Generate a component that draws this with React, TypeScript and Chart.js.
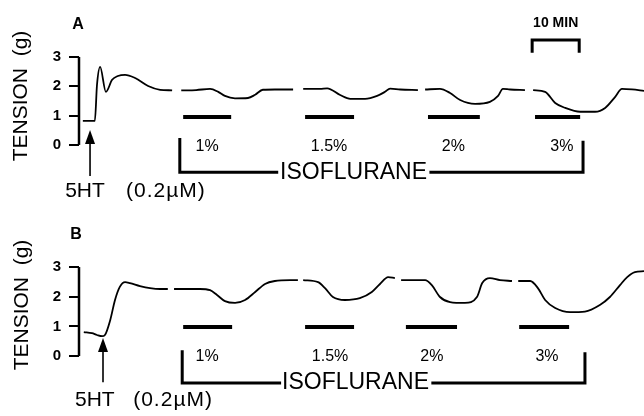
import React, { useEffect, useRef } from 'react';
import { Chart, registerables } from 'chart.js';

Chart.register(...registerables);

const FONT = '"Liberation Sans", Arial, Helvetica, sans-serif';

// time in minutes from the tension axis, tension in grams (null = gap in the trace)
const timeA = [0.8, 3.3, 3.75, 4.4, 5.6, 6.9, 8.1, 9.6, 11.7, 14.4, 16.9, 19.4, 20.3, 21.3, 24.4, 27.3, 29.0, 30.4, 32.5, 35.2, 36.7, 38.3, 40.8, 44.6, 45.6, 46.7, 50.2, 51.7, 54.4, 56.5, 59.6, 62.1, 63.75, 64.8, 66.9, 70.6, 71.3, 72.1, 75.2, 77.3, 79.4, 82.5, 85.6, 87.3, 88.3, 89.8, 92.9, 93.7, 94.6, 97.1, 99.2, 101.3, 104.4, 107.5, 109.6, 111.7, 113.1, 115.2, 117.7];
const tensionA = [0.82, 0.82, 2.05, 2.66, 1.81, 2.22, 2.35, 2.39, 2.28, 2.01, 1.88, 1.86, null, 1.86, 1.87, 1.91, 1.81, 1.67, 1.59, 1.6, 1.71, 1.88, 1.89, 1.89, null, 1.91, 1.91, 1.93, 1.7, 1.57, 1.57, 1.67, 1.81, 1.92, 1.89, 1.87, null, 1.89, 1.91, 1.77, 1.53, 1.4, 1.47, 1.67, 1.91, 1.89, 1.87, null, 1.87, 1.81, 1.43, 1.26, 1.13, 1.13, 1.26, 1.64, 1.91, 1.89, 1.84];

const timeB = [1.0, 2.7, 3.75, 4.8, 5.4, 6.5, 7.5, 8.5, 9.6, 10.6, 12.7, 14.8, 16.9, 18.5, 19.2, 19.8, 25.2, 27.3, 28.75, 30.4, 32.5, 34.6, 36.7, 38.75, 40.8, 44.0, 45.6, 46.1, 46.7, 49.8, 51.25, 52.9, 55.4, 58.5, 61.0, 62.7, 64.4, 65.8, 66.5, 67.1, 72.1, 73.5, 75.2, 77.3, 80.4, 82.9, 84.0, 85.6, 87.7, 90.2, 90.8, 91.5, 94.0, 95.6, 97.1, 99.2, 102.3, 105.4, 108.5, 110.6, 112.7, 114.2, 115.8, 117.7];
const tensionB = [0.81, 0.77, 0.71, 0.67, 0.71, 1.21, 1.89, 2.33, 2.49, 2.46, 2.36, 2.29, 2.26, 2.26, null, 2.26, 2.26, 2.22, 2.06, 1.85, 1.79, 1.89, 2.16, 2.43, 2.53, 2.56, 2.56, null, 2.56, 2.49, 2.29, 1.99, 1.89, 1.95, 2.16, 2.43, 2.66, 2.63, null, 2.56, 2.56, 2.39, 1.99, 1.82, 1.79, 1.99, 2.46, 2.63, 2.56, 2.53, null, 2.53, 2.53, 2.29, 1.89, 1.62, 1.48, 1.5, 1.72, 1.99, 2.39, 2.66, 2.83, 2.86];

// isoflurane exposures (minutes)
const doseLabels = ['1%', '1.5%', '2%', '3%'];
const isoStartA = [21.7, 47.1, 72.7, 95.0];
const isoEndA = [31.7, 57.3, 83.5, 104.4];
const isoStartB = [21.7, 47.1, 68.1, 91.7];
const isoEndB = [31.9, 57.3, 78.75, 102.1];
const doseTimeA = [26.7, 52.1, 78.0, 100.6];
const doseTimeB = [26.7, 52.3, 73.5, 97.5];

// ISOFLURANE bracket: left, text start, text end, right (min) / left top, bottom, right top (g)
const bracketTimeA = [21.0, 41.5, 73.0, 105.0];
const bracketLevelA = [0.24, -0.93, 0.14];
const bracketTimeB = [21.5, 42.1, 73.4, 105.4];
const bracketLevelB = [0.2, -0.91, 0.13];

// 5HT arrow: time, base, tip
const arrowA = [2.3, -1.06, 0.51];
const arrowB = [5.0, -0.88, 0.61];

// 10 min scale bar (panel A)
const scaleBarTime = [94.4, 104.2];
const scaleBarLevel = [3.14, 3.58];

const yTicks = [0, 1, 2, 3];
const T_MAX = 117.7;

interface PanelSpec {
  letter: string;
  letterAt: number[];
  time: number[];
  tension: (number | null)[];
  isoStart: number[];
  isoEnd: number[];
  isoLevel: number;
  doseTime: number[];
  doseLevel: number;
  bracketTime: number[];
  bracketLevel: number[];
  isoTextAt: number[];
  arrow: number[];
  htAt: number[];
  concAt: number[];
  yMin: number;
  yMax: number;
  titleX: number;
  titleY: number;
  scaleBar: boolean;
}

const panels: PanelSpec[] = [
  {
    letter: 'A', letterAt: [-0.2, 4.09],
    time: timeA, tension: tensionA,
    isoStart: isoStartA, isoEnd: isoEndA, isoLevel: 0.95,
    doseTime: doseTimeA, doseLevel: -0.07,
    bracketTime: bracketTimeA, bracketLevel: bracketLevelA, isoTextAt: [57.2, -0.93],
    arrow: arrowA, htAt: [1.25, -1.57], concAt: [18.1, -1.57],
    yMin: -2.15, yMax: 4.94, titleX: 21, titleY: 96, scaleBar: true,
  },
  {
    letter: 'B', letterAt: [-0.6, 4.08],
    time: timeB, tension: tensionB,
    isoStart: isoStartB, isoEnd: isoEndB, isoLevel: 0.98,
    doseTime: doseTimeB, doseLevel: -0.03,
    bracketTime: bracketTimeB, bracketLevel: bracketLevelB, isoTextAt: [57.6, -0.91],
    arrow: arrowB, htAt: [3.3, -1.48], concAt: [19.6, -1.48],
    yMin: -2.02, yMax: 4.99, titleX: 22, titleY: 97, scaleBar: false,
  },
];

const line = (data: any[], width: number, extra: any = {}) => ({
  data,
  showLine: true,
  borderColor: '#000',
  backgroundColor: '#000',
  borderWidth: width,
  pointRadius: 0,
  spanGaps: false,
  tension: 0,
  ...extra,
});

const annotate = (spec: PanelSpec) => ({
  id: 'annotate' + spec.letter,
  afterDatasetsDraw(chart: any) {
    const { ctx, scales: { x, y } } = chart;
    const px = (t: number) => x.getPixelForValue(t);
    const py = (g: number) => y.getPixelForValue(g);
    ctx.save();
    ctx.fillStyle = '#000';
    ctx.strokeStyle = '#000';
    ctx.textAlign = 'center';
    ctx.textBaseline = 'middle';
    const text = (s: string, t: number, g: number, font: string, spacing = '0px') => {
      ctx.font = font;
      ctx.letterSpacing = spacing;
      ctx.fillText(s, px(t), py(g));
    };
    text(spec.letter, spec.letterAt[0], spec.letterAt[1], `bold 16px ${FONT}`);
    spec.doseTime.forEach((t, i) => text(doseLabels[i], t, spec.doseLevel, `16px ${FONT}`));
    text('ISOFLURANE', spec.isoTextAt[0], spec.isoTextAt[1], `23px ${FONT}`);
    text('5HT', spec.htAt[0], spec.htAt[1], `21px ${FONT}`);
    text('(0.2\u00B5M)', spec.concAt[0], spec.concAt[1], `21px ${FONT}`, '1px');
    if (spec.scaleBar) {
      text('10 MIN', (scaleBarTime[0] + scaleBarTime[1]) / 2, 4.16, `bold 14px ${FONT}`);
    }
    ctx.letterSpacing = '0px';

    // 5HT arrow
    const ax = px(spec.arrow[0]);
    const base = py(spec.arrow[1]);
    const tip = py(spec.arrow[2]);
    ctx.lineWidth = 1.6;
    ctx.beginPath();
    ctx.moveTo(ax, base);
    ctx.lineTo(ax, tip + 10);
    ctx.stroke();
    ctx.beginPath();
    ctx.moveTo(ax, tip);
    ctx.lineTo(ax - 5, tip + 14);
    ctx.lineTo(ax + 5, tip + 14);
    ctx.closePath();
    ctx.fill();

    // y title
    ctx.translate(spec.titleX, spec.titleY);
    ctx.rotate(-Math.PI / 2);
    ctx.font = `21px ${FONT}`;
    ctx.fillText('TENSION  (g)', 0, 0);
    ctx.restore();
  },
});

const Panel: React.FC<{ spec: PanelSpec }> = ({ spec }) => {
  const canvasRef = useRef<HTMLCanvasElement>(null);

  useEffect(() => {
    if (!canvasRef.current) return;
    const trace = spec.time.map((t, i) => ({ x: t, y: spec.tension[i] }));
    const bars = spec.isoStart.flatMap((s, i) => [
      { x: s, y: spec.isoLevel },
      { x: spec.isoEnd[i], y: spec.isoLevel },
      { x: spec.isoEnd[i], y: null },
    ]);
    const [bl, gs, ge, br] = spec.bracketTime;
    const [lTop, bottom, rTop] = spec.bracketLevel;
    const bracket = [
      { x: bl, y: lTop }, { x: bl, y: bottom }, { x: gs, y: bottom }, { x: gs, y: null },
      { x: ge, y: bottom }, { x: br, y: bottom }, { x: br, y: rTop },
    ];
    const axis = [{ x: 0, y: yTicks[0] }, { x: 0, y: yTicks[yTicks.length - 1] }];

    const datasets: any[] = [
      line(trace, 1.8, { cubicInterpolationMode: 'monotone' }),
      line(bars, 4, { borderCapStyle: 'butt' }),
      line(bracket, 3, { borderJoinStyle: 'miter', clip: false }),
      line(axis, 2.5, { clip: false }),
    ];
    if (spec.scaleBar) {
      datasets.push(line([
        { x: scaleBarTime[0], y: scaleBarLevel[0] },
        { x: scaleBarTime[0], y: scaleBarLevel[1] },
        { x: scaleBarTime[1], y: scaleBarLevel[1] },
        { x: scaleBarTime[1], y: scaleBarLevel[0] },
      ], 3, { borderJoinStyle: 'miter' }));
    }

    const chart = new Chart(canvasRef.current, {
      type: 'scatter',
      data: { datasets },
      options: {
        animation: false,
        responsive: true,
        maintainAspectRatio: false,
        events: [],
        layout: { padding: 0 },
        plugins: { legend: { display: false }, tooltip: { enabled: false } },
        scales: {
          x: { type: 'linear', min: 0, max: T_MAX, display: false },
          y: {
            type: 'linear',
            min: spec.yMin,
            max: spec.yMax,
            afterBuildTicks: (scale: any) => {
              scale.ticks = yTicks.map((v) => ({ value: v }));
            },
            afterFit: (scale: any) => {
              scale.width = 79;
              scale.paddingTop = 0;
              scale.paddingBottom = 0;
            },
            border: { display: false },
            grid: { drawOnChartArea: false, drawTicks: true, tickLength: 10, lineWidth: 2, color: '#000' },
            ticks: { color: '#000', padding: 8, font: { family: FONT, weight: 'bold', size: 15 } },
          },
        },
      } as any,
      plugins: [annotate(spec)],
    });
    return () => chart.destroy();
  }, [spec]);

  return (
    <div style={{ position: 'relative', width: 644, height: 208 }}>
      <canvas ref={canvasRef} />
    </div>
  );
};

export default function App() {
  return (
    <div style={{ position: 'absolute', left: 0, top: 0, width: 644, height: 416, background: '#fff' }}>
      {panels.map((p) => (
        <Panel key={p.letter} spec={p} />
      ))}
    </div>
  );
}
